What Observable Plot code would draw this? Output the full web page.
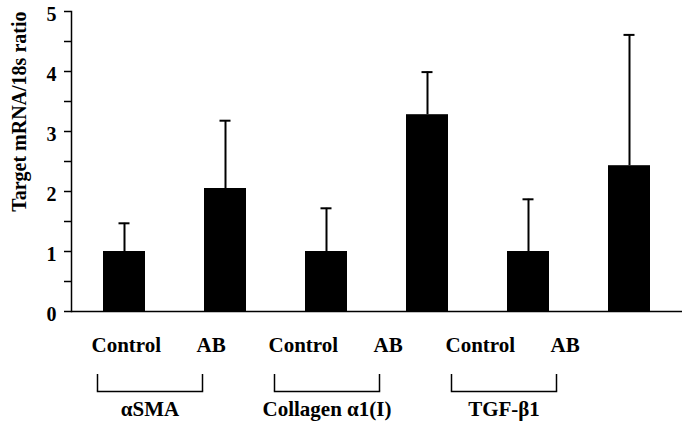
<!DOCTYPE html>
<html><head><meta charset="utf-8">
<script src="https://cdn.jsdelivr.net/npm/d3@7"></script>
<script src="https://cdn.jsdelivr.net/npm/@observablehq/plot@0.6"></script>
<style>
html,body{margin:0;padding:0;background:#fff;}
#chart svg{display:block;}
</style></head><body><div id="chart"></div>
<script>
const genes = ["αSMA", "Collagen α1(I)", "TGF-β1"];
const conditions = ["Control", "AB"];
const means = [1.00, 2.05, 1.00, 3.28, 1.00, 2.43];
const errors = [0.47, 1.13, 0.72, 0.71, 0.87, 2.18];
const yTicks = [0, 1, 2, 3, 4, 5];
const yMinorTicks = [0.5, 1.5, 2.5, 3.5, 4.5];
const yLabel = "Target mRNA/18s ratio";

const rows = [];
genes.forEach((g, gi) => conditions.forEach((c, ci) => {
  const i = gi * 2 + ci;
  rows.push({gene: g, condition: c, key: g + " " + c, mean: means[i], upper: means[i] + errors[i]});
}));
const font = "Liberation Serif";

const main = Plot.plot({
  width: 685, height: 322, marginLeft: 71, marginRight: 3, marginTop: 11, marginBottom: 11,
  style: {fontFamily: font, background: "white", overflow: "visible", color: "black"},
  x: {domain: rows.map(d => d.key), paddingInner: 0.58, paddingOuter: 0.29, axis: null},
  y: {domain: [0, 5], axis: null},
  marks: [
    Plot.barY(rows, {x: "key", y: "mean", fill: "black"}),
    Plot.ruleX(rows, {x: "key", y1: "mean", y2: "upper", strokeWidth: 2}),
    Plot.tickY(rows, {x: "key", y: "upper", strokeWidth: 2, insetLeft: 15.5, insetRight: 15.5}),
    Plot.axisY({ticks: yTicks, tickSize: 7, text: null, label: null, strokeWidth: 1.5}),
    Plot.axisY({ticks: yMinorTicks, tickSize: 7, text: null, label: null, strokeWidth: 1.5}),
    Plot.axisY({ticks: yTicks, tickSize: 0, tickPadding: 15, dy: 3, fontSize: 20, fontWeight: "bold", fontFamily: font, tickFormat: d => String(d), label: null}),
    Plot.frame({anchor: "left", strokeWidth: 1.5}),
    Plot.ruleY([0], {strokeWidth: 1.5}),
    Plot.text([yLabel], {text: d => d, y: () => 5, frameAnchor: "left", rotate: -90, textAnchor: "end", lineAnchor: "middle", dx: -52, fontSize: 20, fontWeight: "bold", fontFamily: font})
  ]
});

const lower = Plot.plot({
  width: 685, height: 104, marginLeft: 97, marginRight: 129, marginTop: 52, marginBottom: 35,
  style: {fontFamily: font, background: "white", overflow: "visible", color: "black"},
  fx: {domain: genes, paddingInner: 0.407, paddingOuter: 0, label: null},
  x: {type: "point", domain: conditions, padding: 0, axis: null},
  marks: [
    Plot.axisFx({anchor: "bottom", tickSize: 0, tickPadding: 10, fontSize: 21, fontWeight: "bold", fontFamily: font, label: null}),
    Plot.frame({anchor: "bottom", strokeWidth: 1.5}),
    Plot.ruleX(rows, {fx: "gene", x: "condition", strokeWidth: 1.5}),
    Plot.text(rows, {fx: "gene", x: "condition", text: "condition", frameAnchor: "top", textAnchor: "start", lineAnchor: "middle", dx: -6, dy: -29, fontSize: 21, fontWeight: "bold", fontFamily: font})
  ]
});

document.getElementById("chart").append(main, lower);
</script></body></html>
